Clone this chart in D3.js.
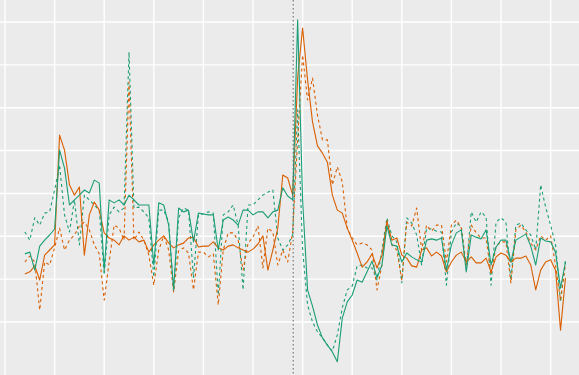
<!DOCTYPE html>
<html>
<head>
<meta charset="utf-8">
<script src="https://cdn.jsdelivr.net/npm/d3@7"></script>
<style>
  html, body { margin: 0; padding: 0; background: #ebebeb; }
  svg { display: block; }
</style>
</head>
<body>
<div id="chart"></div>
<script>
// ---- data ----
const weekIndex = d3.range(4, 114);           // 110 evenly spaced periods
const eventAt = 58.1;                          // vertical reference line
const xTicks = [0, 10, 20, 30, 40, 50, 60, 70, 80, 90, 100, 110];
const yTicks = [0, 10, 20, 30, 40, 50, 60, 70];

const greenSolid = [15.9,16.3,12.1,17.7,19.1,20.3,21.7,40.1,35.9,27.3,28.5,29.6,30.8,30.1,33.1,32.4,12.1,28.5,27.8,28.5,
27.3,29.6,28.5,27.3,27.3,27.3,13.3,27.8,27.3,22.6,7.5,26.6,25.7,26.1,18.7,25.4,25.2,25.0,25.0,16.8,
23.8,24.5,23.8,22.6,26.1,26.1,25.0,25.7,25.7,24.3,25.7,26.1,31.3,29.4,28.5,70.5,28.5,7.5,3.7,-0.7,
-3.7,-5.4,-7.0,-9.3,0.9,4.7,6.3,9.8,9.3,11.7,14.2,10.3,13.3,22.4,18.0,17.7,14.0,16.1,15.2,14.5,
14.0,19.1,19.4,19.1,19.6,12.1,18.0,20.8,21.5,11.7,20.3,19.8,19.4,21.5,13.3,17.5,19.1,19.1,14.0,19.1,
19.8,20.5,17.7,13.3,19.6,18.9,18.7,16.3,7.9,14.0];

const greenDotted = [21.0,19.1,24.3,22.6,25.4,25.7,30.8,36.6,25.0,21.0,28.5,18.0,29.6,28.5,27.3,26.1,11.0,25.0,26.8,25.7,
26.6,63.0,26.6,26.8,25.7,24.3,10.5,26.1,26.1,23.3,7.0,24.3,26.6,26.1,10.3,25.0,25.2,25.7,25.4,6.3,
25.0,25.7,27.3,22.6,7.5,27.3,27.3,28.5,29.6,30.3,30.8,19.6,16.8,18.0,20.3,49.5,16.8,4.0,0.0,-2.3,
-3.7,-5.4,-6.8,-3.0,3.3,7.5,8.4,13.1,13.3,12.6,12.6,9.8,16.8,24.3,20.1,18.7,9.1,24.3,23.1,20.3,
13.3,21.9,21.7,21.2,21.0,8.6,21.0,23.1,22.2,12.1,25.7,23.3,25.7,24.5,8.6,23.3,24.3,23.3,9.8,22.6,
23.1,21.5,20.3,16.8,32.0,26.8,22.6,18.0,4.7,14.5];

const orangeSolid = [11.2,11.7,13.1,9.8,15.6,16.8,18.0,43.6,40.1,32.0,29.6,31.5,15.6,25.0,28.0,26.1,20.8,19.6,19.1,18.0,
20.1,19.1,19.8,18.7,19.1,16.3,18.0,19.1,20.1,18.4,17.3,18.0,18.4,19.6,19.8,17.5,17.7,17.7,18.7,17.3,
16.8,17.7,18.0,17.3,16.8,16.3,17.0,18.2,20.1,12.1,16.8,21.9,34.3,33.6,29.6,56.9,68.6,56.5,46.7,41.1,
39.4,37.3,29.6,26.1,25.4,21.9,19.1,16.1,12.8,14.0,15.9,12.6,15.6,23.3,19.1,19.6,15.6,14.9,13.1,12.8,
16.8,17.3,15.4,16.3,15.4,11.7,14.0,15.6,16.3,14.0,15.2,13.8,13.8,14.9,11.7,15.2,16.1,15.6,14.0,14.9,
14.9,15.4,13.3,7.5,12.1,14.0,14.5,12.1,-1.9,10.3];

const orangeDotted = [14.0,15.4,14.0,2.8,14.0,13.3,17.3,21.9,16.8,19.1,20.3,22.4,23.3,21.5,18.0,15.9,5.1,14.0,22.6,21.9,
19.1,56.0,19.1,21.0,19.1,15.6,8.6,16.8,20.1,16.8,7.0,16.6,17.3,16.1,7.5,16.3,16.3,15.2,15.9,4.0,
16.8,20.8,20.8,19.1,12.1,18.4,19.8,22.4,12.6,21.9,21.0,13.3,16.8,14.0,21.0,42.5,62.3,51.8,56.9,48.3,
42.5,42.5,32.0,36.2,32.7,21.9,19.6,18.0,18.4,18.0,16.8,7.5,13.3,23.8,18.0,16.8,9.8,23.3,22.4,26.6,
16.8,22.6,21.2,22.6,22.6,14.0,22.6,23.8,21.9,13.3,22.6,20.8,19.6,19.6,11.0,17.7,18.7,18.7,9.1,21.5,
22.6,21.0,18.4,16.8,20.1,19.1,20.1,13.3,5.1,13.5];

const series = [
  { name: "greenDotted",  values: greenDotted,  color: "#1B9E77", dash: "3,3" },
  { name: "orangeDotted", values: orangeDotted, color: "#D95F02", dash: "3,3" },
  { name: "orangeSolid",  values: orangeSolid,  color: "#D95F02", dash: null },
  { name: "greenSolid",   values: greenSolid,   color: "#1B9E77", dash: null }
];

// ---- drawing ----
const W = 579, H = 375;
const svg = d3.select("#chart").append("svg").attr("width", W).attr("height", H);

const x = d3.scaleLinear().domain([0, 110]).range([5, 550.6]);
const y = d3.scaleLinear().domain([0, 70]).range([322, 22]);

svg.append("rect").attr("width", W).attr("height", H).attr("fill", "#EBEBEB");

const grid = svg.append("g");
grid.selectAll("line.v").data(xTicks).join("line")
  .attr("x1", d => x(d)).attr("x2", d => x(d))
  .attr("y1", 0).attr("y2", H)
  .attr("stroke", "#fff").attr("stroke-width", 1.4);
grid.selectAll("line.h").data(yTicks).join("line")
  .attr("x1", 0).attr("x2", W)
  .attr("y1", d => y(d)).attr("y2", d => y(d))
  .attr("stroke", "#fff").attr("stroke-width", 1.4);

const line = d3.line()
  .x((d, i) => x(weekIndex[i]))
  .y(d => y(d));

svg.selectAll("path.series").data(series).join("path")
  .attr("class", "series")
  .attr("d", d => line(d.values))
  .attr("fill", "none")
  .attr("stroke", d => d.color)
  .attr("stroke-width", 1.1)
  .attr("stroke-linejoin", "round")
  .attr("stroke-dasharray", d => d.dash);

svg.append("line")
  .attr("x1", x(eventAt)).attr("x2", x(eventAt))
  .attr("y1", 0).attr("y2", H)
  .attr("stroke", "#666").attr("stroke-width", 1)
  .attr("stroke-dasharray", "1.5,2.5");
</script>
</body>
</html>
